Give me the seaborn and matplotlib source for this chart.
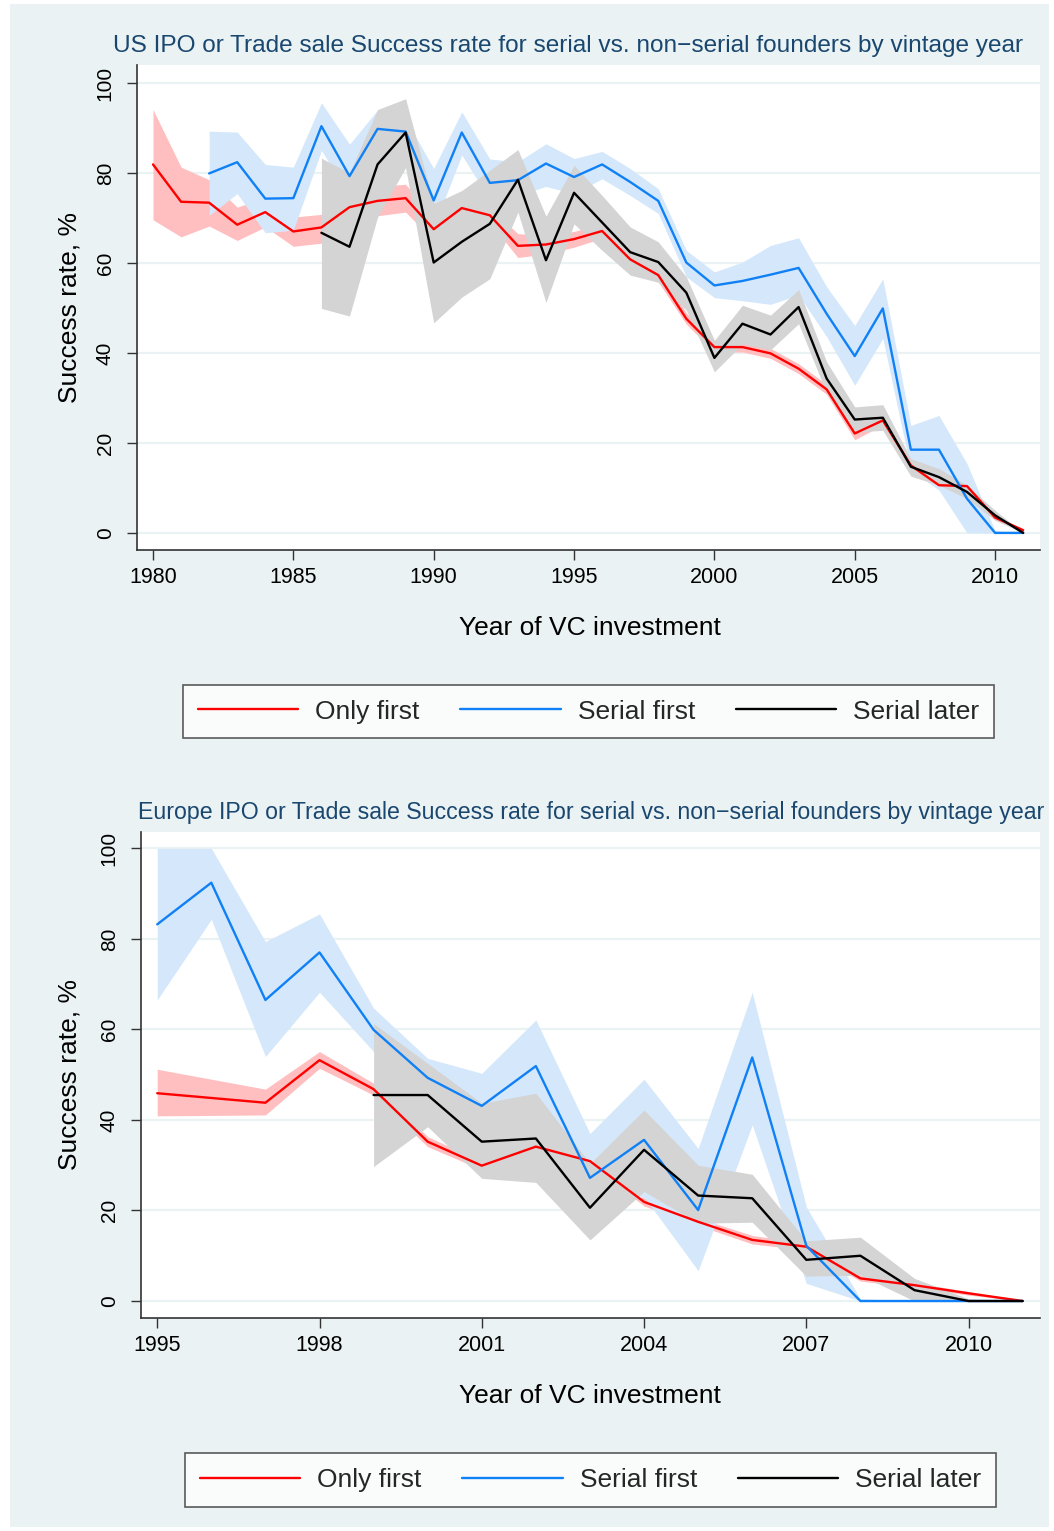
import numpy as np
import pandas as pd
import seaborn as sns
import matplotlib
matplotlib.use("Agg")
import matplotlib.pyplot as plt
from matplotlib.lines import Line2D
from matplotlib.patches import Rectangle

nan = np.nan

# --- US panel -------------------------------------------------------------
us_years = list(range(1980, 2012))
us_only = [81.9, 73.6, 73.4, 68.5, 71.3, 67.0, 67.9, 72.4, 73.8, 74.4, 67.5, 72.2, 70.6, 63.8, 64.1, 65.3,
           67.1, 60.8, 57.3, 47.6, 41.3, 41.3, 39.9, 36.5, 31.9, 22.1, 25.0, 15.0, 10.6, 10.4, 3.4, 0.6]
us_only_lo = [69.6, 65.8, 68.2, 65.0, 68.0, 63.7, 64.4, 69.5, 70.5, 71.3, 65.0, 70.5, 69.0, 61.2, 62.0, 63.5,
              65.5, 59.3, 55.8, 46.4, 40.2, 40.2, 38.8, 35.4, 30.8, 20.7, 24.0, 14.2, 10.0, 9.8, 2.9, 0.3]
us_only_hi = [94.1, 81.3, 78.5, 72.4, 74.5, 70.2, 70.8, 75.5, 77.0, 77.5, 70.0, 74.0, 72.3, 66.5, 66.2, 67.0,
              68.7, 62.3, 58.8, 48.9, 42.4, 42.4, 41.0, 37.6, 33.0, 23.6, 26.0, 15.8, 11.2, 11.0, 3.9, 0.9]

us_sfirst = [nan, nan, 79.9, 82.4, 74.3, 74.4, 90.4, 79.3, 89.8, 89.2, 73.9, 89.0, 77.8, 78.4, 82.1, 79.1,
             81.9, 78.0, 73.8, 60.1, 55.0, 56.0, 57.4, 58.9, 48.7, 39.3, 49.9, 18.5, 18.5, 7.6, 0.0, 0.0]
us_sfirst_lo = [nan, nan, 70.6, 75.4, 66.7, 67.3, 85.0, 75.0, 85.0, 85.5, 68.0, 84.0, 74.0, 75.0, 77.0, 75.4,
                78.7, 75.0, 71.0, 56.9, 52.3, 51.6, 50.8, 52.9, 43.6, 32.8, 43.2, 14.0, 9.5, 0.0, 0.0, 0.0]
us_sfirst_hi = [nan, nan, 89.3, 89.1, 81.9, 81.3, 95.6, 86.4, 94.0, 92.0, 81.0, 93.6, 83.1, 82.5, 86.5, 83.2,
                84.8, 81.0, 76.5, 62.8, 58.0, 60.2, 63.9, 65.6, 54.7, 46.1, 56.5, 23.9, 26.1, 15.4, 0.5, 0.0]

us_slater = [nan] * 6 + [66.7, 63.6, 81.9, 89.0, 60.1, 64.7, 68.7, 78.5, 60.6, 75.6,
                         69.0, 62.4, 60.2, 53.4, 38.9, 46.5, 44.1, 50.2, 34.3, 25.2, 25.6, 14.7, 12.4, 9.1, 3.9, 0.0]
us_slater_lo = [nan] * 6 + [49.9, 48.2, 70.2, 81.2, 46.7, 52.4, 56.5, 71.3, 51.2, 68.7,
                            62.8, 57.3, 55.7, 49.5, 35.8, 42.0, 40.7, 46.5, 31.0, 22.4, 22.8, 12.6, 10.6, 7.6, 2.8, 0.0]
us_slater_hi = [nan] * 6 + [83.3, 80.0, 94.1, 96.5, 73.2, 76.1, 80.6, 85.2, 70.4, 81.7,
                            75.0, 68.0, 64.7, 56.9, 42.8, 50.6, 48.4, 54.1, 38.0, 28.0, 28.5, 16.5, 14.3, 10.6, 5.0, 0.0]

# --- Europe panel ---------------------------------------------------------
eu_years = list(range(1995, 2012))
eu_only = [45.9, nan, 43.8, 53.2, 46.8, 35.2, 29.9, 34.1, 30.9, 21.9, 17.5, 13.5, 12.0, 5.0, 3.5, 1.7, 0.0]
eu_only_lo = [40.9, nan, 41.1, 51.4, 45.5, 34.1, 29.0, 33.3, 30.2, 21.0, 16.7, 12.6, 11.3, 4.4, 3.0, 1.3, 0.0]
eu_only_hi = [51.2, nan, 46.8, 55.1, 48.1, 36.3, 30.8, 35.0, 31.7, 22.8, 18.3, 14.5, 12.7, 5.6, 4.0, 2.1, 0.0]

eu_sfirst = [83.2, 92.4, 66.5, 77.0, 59.9, 49.3, 43.1, 51.9, 27.2, 35.6, 20.1, 53.8, 12.2, 0.0, 0.0, 0.0, 0.0]
eu_sfirst_lo = [66.5, 84.3, 54.0, 68.2, 55.1, 45.5, 40.0, 44.0, 20.5, 23.0, 6.7, 38.9, 3.9, 0.0, 0.0, 0.0, 0.0]
eu_sfirst_hi = [100.0, 100.0, 79.4, 85.5, 64.7, 53.6, 50.3, 62.1, 37.0, 49.0, 33.7, 68.2, 20.8, 0.5, 0.0, 0.0, 0.0]

eu_slater = [nan] * 4 + [45.5, 45.5, 35.2, 35.9, 20.6, 33.4, 23.3, 22.7, 9.1, 10.0, 2.4, 0.0, 0.0]
eu_slater_lo = [nan] * 4 + [29.7, 38.5, 27.1, 26.2, 13.5, 24.2, 17.2, 17.4, 5.5, 5.7, 0.0, 0.0, 0.0]
eu_slater_hi = [nan] * 4 + [61.3, 52.5, 43.7, 45.9, 30.4, 42.2, 30.0, 28.0, 13.3, 14.1, 5.0, 0.5, 0.0]

groups = ["Only first", "Serial first", "Serial later"]
line_colors = {"Only first": "#ff0000", "Serial first": "#0f80f5", "Serial later": "#000000"}
band_colors = {"Only first": "#ffbfc0", "Serial first": "#d5e8fb", "Serial later": "#d4d4d4"}

BG = "#eaf2f3"
TITLE_C = "#1a476f"

sns.set_theme(style="ticks")
plt.rcParams["font.family"] = ["Liberation Sans", "DejaVu Sans"]


def to_frame(years, series):
    rows = []
    for name, (mid, lo, hi) in zip(groups, series):
        for y, m, l, h in zip(years, mid, lo, hi):
            rows.append({"year": y, "rate": m, "lo": l, "hi": h, "group": name})
    return pd.DataFrame(rows).dropna()


def draw(ax, df, xticks, xlim, ylim):
    # bands first (red, blue, grey), lines on top
    for i, g in enumerate(groups):
        d = df[df["group"] == g]
        ax.fill_between(d["year"], d["lo"], d["hi"], color=band_colors[g], lw=0, zorder=1 + i)
    sns.lineplot(data=df, x="year", y="rate", hue="group", hue_order=groups,
                 palette=line_colors, errorbar=None, legend=False, lw=1.7, ax=ax, zorder=5)
    ax.set_facecolor("white")
    ax.set_xlim(*xlim)
    ax.set_ylim(*ylim)
    ax.set_xticks(xticks)
    ax.set_yticks([0, 20, 40, 60, 80, 100])
    ax.yaxis.grid(True, color=BG, lw=1.6)
    ax.xaxis.grid(False)
    ax.set_axisbelow(True)
    for s in ["top", "right"]:
        ax.spines[s].set_visible(False)
    for s in ["left", "bottom"]:
        ax.spines[s].set_color("#333333")
        ax.spines[s].set_linewidth(1.2)
    ax.tick_params(axis="x", length=7, width=1, color="#333333", labelsize=15.5, pad=5, labelcolor="black")
    ax.tick_params(axis="y", length=7, width=1, color="#333333", labelsize=15, pad=9,
                   labelrotation=90, labelcolor="black")
    for lbl in ax.get_yticklabels():
        lbl.set_va("center")
    ax.set_xlabel("Year of VC investment", fontsize=19, color="black")
    ax.set_ylabel("Success rate, %", fontsize=19, color="black")
    ax.xaxis.label.set_va("center")
    ax.yaxis.label.set_va("center")


W, H = 1054, 1531
fig = plt.figure(figsize=(W / 100, H / 100), dpi=100, facecolor="white")
fig.patches.append(Rectangle((10 / W, 4 / H), (1049 - 10) / W, (1527 - 4) / H,
                             transform=fig.transFigure, facecolor=BG, edgecolor="none", zorder=-10))

ax1 = fig.add_axes([137 / W, 1 - 550 / H, (1040 - 137) / W, (550 - 65) / H])
ax2 = fig.add_axes([141 / W, 1 - 1318 / H, (1040 - 141) / W, (1318 - 832) / H])

us_df = to_frame(us_years, [(us_only, us_only_lo, us_only_hi),
                            (us_sfirst, us_sfirst_lo, us_sfirst_hi),
                            (us_slater, us_slater_lo, us_slater_hi)])
eu_df = to_frame(eu_years, [(eu_only, eu_only_lo, eu_only_hi),
                            (eu_sfirst, eu_sfirst_lo, eu_sfirst_hi),
                            (eu_slater, eu_slater_lo, eu_slater_hi)])

draw(ax1, us_df, [1980, 1985, 1990, 1995, 2000, 2005, 2010], (1979.43, 2011.6), (-3.8, 104))
draw(ax2, eu_df, [1995, 1998, 2001, 2004, 2007, 2010], (1994.70, 2011.32), (-3.75, 103.6))

ax1.xaxis.set_label_coords((590 - 137) / 903, (550 - 628) / 485)
ax1.yaxis.set_label_coords((70 - 137) / 903, 0.5)
ax2.xaxis.set_label_coords((590 - 141) / 899, (1318 - 1396) / 486)
ax2.yaxis.set_label_coords((70 - 141) / 899, 0.5)

fig.text(113 / W, 1 - 46 / H,
         "US IPO or Trade sale Success rate for serial vs. non\u2212serial founders by vintage year",
         ha="left", va="center", fontsize=17.6, color=TITLE_C)
fig.text(138 / W, 1 - 812 / H,
         "Europe IPO or Trade sale Success rate for serial vs. non\u2212serial founders by vintage year",
         ha="left", va="center", fontsize=16.7, color=TITLE_C)

handles = [Line2D([], [], color=line_colors[g], lw=1.7) for g in groups]
for cy, cx in [(711.5, 588.5), (1480, 590.5)]:
    leg = fig.legend(handles, groups, loc="center", bbox_to_anchor=(cx / W, 1 - cy / H), ncol=3,
                     fontsize=19, frameon=True, fancybox=False, handlelength=3.8, handletextpad=0.65,
                     columnspacing=1.55, borderpad=0.55)
    leg.get_frame().set_edgecolor("#333333")
    leg.get_frame().set_linewidth(1.2)
    leg.get_frame().set_facecolor("white")

fig.savefig("out.png", dpi=100, facecolor=fig.get_facecolor())
